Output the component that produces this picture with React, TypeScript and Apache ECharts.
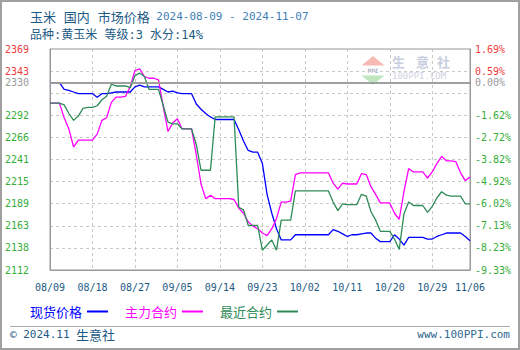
import React, { useEffect, useRef } from 'react';
import * as echarts from 'echarts';

// Categories: daily dates 08/09 .. 11/06
const monthRanges: [string, number, number][] = [
  ['08', 9, 31],
  ['09', 1, 30],
  ['10', 1, 31],
  ['11', 1, 6],
];
const dates: string[] = [];
monthRanges.forEach(([m, a, b]) => {
  for (let d = a; d <= b; d++) dates.push(m + '/' + (d < 10 ? '0' + d : '' + d));
});

const spotPrice = [
  2330, 2330, 2330, 2322, 2321, 2319, 2317, 2317, 2317, 2317,
  2313, 2317, 2317, 2318, 2319, 2319, 2319, 2319, 2325, 2327,
  2325, 2325, 2325, 2325, 2322, 2319, 2320, 2318, 2317, 2317,
  2317, 2305, 2299, 2294, 2290, 2287, 2287, 2287, 2287, 2287,
  2275, 2262, 2251, 2249, 2249, 2236, 2200, 2178, 2160, 2147,
  2147, 2147, 2153, 2153, 2153, 2153, 2153, 2153, 2153, 2153,
  2159, 2157, 2154, 2151, 2153, 2153, 2154, 2155, 2155, 2149,
  2145, 2145, 2145, 2153, 2148, 2141, 2150, 2150, 2150, 2150,
  2148, 2148, 2151, 2153, 2155, 2155, 2155, 2155, 2151, 2146,
];
const mainContract = [
  2306, 2306, 2306, 2289, 2276, 2255, 2263, 2263, 2263, 2263,
  2270, 2286, 2289, 2307, 2313, 2313, 2314, 2325, 2344, 2346,
  2337, 2335, 2335, 2333, 2302, 2273, 2283, 2288, 2276, 2276,
  2276, 2246, 2212, 2195, 2199, 2195, 2195, 2195, 2195, 2194,
  2184, 2178, 2168, 2163, 2160, 2155, 2152, 2160, 2172, 2191,
  2191, 2192, 2223, 2225, 2225, 2225, 2225, 2225, 2225, 2225,
  2213, 2206, 2213, 2212, 2212, 2212, 2224, 2223, 2209, 2200,
  2190, 2190, 2190, 2178, 2171, 2203, 2230, 2226, 2226, 2226,
  2219, 2226, 2236, 2244, 2239, 2239, 2238, 2225, 2216, 2220,
];
const nearestContract = [
  2306, 2306, 2306, 2304, 2294, 2286, 2291, 2300, 2301, 2301,
  2303, 2310, 2314, 2328, 2326, 2326, 2326, 2324, 2338, 2341,
  2337, 2322, 2322, 2322, 2303, 2284, 2282, 2282, 2276, 2276,
  2276, 2258, 2228, 2228, 2228, 2290, 2290, 2290, 2290, 2290,
  2185, 2182, 2164, 2164, 2164, 2135, 2141, 2147, 2135, 2170,
  2170, 2170, 2204, 2204, 2204, 2204, 2204, 2204, 2204, 2204,
  2191, 2181, 2189, 2188, 2188, 2188, 2200, 2198, 2180, 2170,
  2157, 2157, 2157, 2148, 2136, 2177, 2191, 2187, 2187, 2187,
  2179, 2186, 2196, 2203, 2199, 2198, 2198, 2198, 2189, 2189,
];

const yMin = 2112;
const yMax = 2369;
const baseValue = 2330;
const leftTickLabels = ['2112', '2138', '2163', '2189', '2215', '2241', '2266', '2292', '', '2343', '2369'];
const rightTickLabels = ['-9.33%', '-8.23%', '-7.13%', '-6.02%', '-4.92%', '-3.82%', '-2.72%', '-1.62%', '', '0.59%', '1.69%'];
const baseLeftLabel = '2330';
const baseRightLabel = '0.00%';
const seriesNames = ['现货价格', '主力合约', '最近合约'];

const MONO = '"DejaVu Sans Mono", "Noto Sans CJK SC", monospace';
const CJK = '"Noto Sans CJK SC", sans-serif';
const RED = '#f03c3c';
const GREEN = '#36ad36';
const GRAY = '#9a9a9a';
const DARK = '#1d5a85';

export default function App() {
  const ref = useRef<HTMLDivElement>(null);
  useEffect(() => {
    document.body.style.margin = '0';
    const chart = echarts.init(ref.current!, null, { renderer: 'svg' });
    const splitIdx = (i: number) => i % 9 === 0;
    const option: any = {
      animation: false,
      backgroundColor: '#ffffff',
      title: [
        {
          left: 25,
          top: 5,
          text: '{a|玉米}{s| }{a|国内}{s| }{a|市场价格}{t| }{b|2024-08-09 - 2024-11-07}',
          textStyle: {
            rich: {
              a: { fontSize: 13, color: DARK, fontFamily: CJK, fontWeight: 'normal' },
              s: { fontSize: 13, fontFamily: MONO, fontWeight: 'normal' },
              t: { fontSize: 11, fontFamily: MONO, fontWeight: 'normal' },
              b: { fontSize: 11, color: '#3f80b5', fontFamily: MONO, fontWeight: 'normal' },
            },
          },
        },
        {
          left: 25,
          top: 24,
          text: '品种:黄玉米 等级:3 水分:14%',
          textStyle: { fontSize: 12, color: DARK, fontFamily: MONO, fontWeight: 'normal' },
        },
      ],
      legend: {
        left: 25,
        top: 300,
        align: 'right',
        icon: 'rect',
        itemWidth: 21,
        itemHeight: 2,
        itemGap: 17,
        textStyle: { fontSize: 13, fontFamily: CJK },
        data: [
          { name: seriesNames[0], textStyle: { color: '#0000ff' } },
          { name: seriesNames[1], textStyle: { color: '#ff00ff' } },
          { name: seriesNames[2], textStyle: { color: '#2e8b57' } },
        ],
      },
      grid: {
        left: 50,
        right: 50,
        top: 49,
        bottom: 80,
        show: true,
        borderColor: '#999',
        borderWidth: 1,
        backgroundColor: 'transparent',
      },
      xAxis: {
        type: 'category',
        data: dates,
        boundaryGap: false,
        axisLine: { lineStyle: { color: '#999' } },
        axisTick: { show: false },
        axisLabel: {
          interval: (i: number) => i % 9 === 0 || i === dates.length - 1,
          color: DARK,
          fontSize: 10,
          fontFamily: MONO,
          margin: 12,
        },
        splitLine: {
          show: true,
          interval: (i: number) => splitIdx(i),
          lineStyle: { color: '#c8c8c8', type: [3, 3] },
        },
      },
      yAxis: [
        {
          type: 'value',
          min: yMin,
          max: yMax,
          position: 'left',
          axisLine: { show: false },
          axisTick: { show: false },
          axisLabel: { show: false },
          splitLine: { show: false },
        },
        {
          type: 'value',
          min: 0,
          max: 10,
          interval: 1,
          position: 'left',
          axisLine: { show: true, lineStyle: { color: '#999' } },
          axisTick: { show: false },
          axisLabel: {
            margin: 21,
            fontSize: 10,
            fontFamily: MONO,
            formatter: (v: number) => leftTickLabels[Math.round(v)] ?? '',
            color: (v: number) => (Math.round(v) >= 9 ? RED : GREEN),
          },
          splitLine: { show: true, lineStyle: { color: '#c8c8c8', type: [3, 3] } },
        },
        {
          type: 'value',
          min: 0,
          max: 10,
          interval: 1,
          position: 'right',
          axisLine: { show: true, lineStyle: { color: '#999' } },
          axisTick: { show: false },
          axisLabel: {
            margin: 5,
            fontSize: 10,
            fontFamily: MONO,
            formatter: (v: number) => rightTickLabels[Math.round(v)] ?? '',
            color: (v: number) => (Math.round(v) >= 9 ? RED : GREEN),
          },
          splitLine: { show: false },
        },
      ],
      series: [
        {
          name: seriesNames[0],
          type: 'line',
          yAxisIndex: 0,
          data: spotPrice,
          showSymbol: false,
          lineStyle: { color: '#0000ff', width: 1.3 },
          itemStyle: { color: '#0000ff' },
          markLine: {
            silent: true,
            symbol: ['none', 'none'],
            lineStyle: { color: GRAY, type: 'solid', width: 1.5 },
            label: {
              position: 'start',
              distance: 21,
              formatter: baseLeftLabel,
              color: GRAY,
              fontSize: 10,
              fontFamily: MONO,
            },
            data: [{ yAxis: baseValue }],
          },
        },
        {
          name: seriesNames[1],
          type: 'line',
          yAxisIndex: 0,
          data: mainContract,
          showSymbol: false,
          lineStyle: { color: '#ff00ff', width: 1.3 },
          itemStyle: { color: '#ff00ff' },
          markLine: {
            silent: true,
            symbol: ['none', 'none'],
            lineStyle: { color: GRAY, type: 'solid', width: 1.5 },
            label: {
              position: 'end',
              distance: 5,
              formatter: baseRightLabel,
              color: GRAY,
              fontSize: 10,
              fontFamily: MONO,
            },
            data: [{ yAxis: baseValue }],
          },
        },
        {
          name: seriesNames[2],
          type: 'line',
          yAxisIndex: 0,
          data: nearestContract,
          showSymbol: false,
          lineStyle: { color: '#2e8b57', width: 1.3 },
          itemStyle: { color: '#2e8b57' },
        },
      ],
      graphic: [
        {
          type: 'rect',
          silent: true,
          shape: { x: 1, y: 1, width: 518, height: 348 },
          style: { fill: 'none', stroke: '#a0a0a0', lineWidth: 2 },
        },
        {
          type: 'line',
          silent: true,
          shape: { x1: 10, y1: 326.5, x2: 510, y2: 326.5 },
          style: { stroke: '#aaaaaa', lineWidth: 1 },
        },
        {
          type: 'text',
          x: 10,
          y: 334,
          style: { text: '© 2024.11', fill: DARK, font: '11px ' + MONO, verticalAlign: 'middle' },
        },
        {
          type: 'text',
          x: 76,
          y: 334,
          style: { text: '生意社', fill: DARK, font: '13px ' + CJK, verticalAlign: 'middle' },
        },
        {
          type: 'text',
          x: 510,
          y: 334,
          style: { text: 'www.100PPI.com', fill: '#2f6a93', font: '11px ' + MONO, align: 'right', verticalAlign: 'middle' },
        },
        // watermark logo
        {
          type: 'polygon',
          silent: true,
          shape: { points: [[373, 56], [361.5, 65.5], [384.5, 65.5]] },
          style: { fill: '#f5bab3' },
        },
        {
          type: 'text',
          x: 373,
          y: 70.5,
          style: { text: 'PPI', fill: '#a9afc8', font: 'bold 6px ' + MONO, align: 'center', verticalAlign: 'middle' },
        },
        {
          type: 'polygon',
          silent: true,
          shape: { points: [[361.5, 75.5], [384.5, 75.5], [373, 85]] },
          style: { fill: '#bfe6bf' },
        },
        {
          type: 'text',
          x: 392,
          y: 61,
          style: { text: '生', fill: '#c9cde0', font: 'bold 13px ' + CJK, verticalAlign: 'middle' },
        },
        {
          type: 'text',
          x: 416,
          y: 61,
          style: { text: '意', fill: '#c9cde0', font: 'bold 13px ' + CJK, verticalAlign: 'middle' },
        },
        {
          type: 'text',
          x: 437,
          y: 61,
          style: { text: '社', fill: '#c9cde0', font: 'bold 13px ' + CJK, verticalAlign: 'middle' },
        },
        {
          type: 'text',
          x: 392,
          y: 75.5,
          style: { text: '100PPI.COM', fill: '#d0d3e2', font: '9px ' + MONO, verticalAlign: 'middle' },
        },
      ],
    };
    chart.setOption(option);
    return () => chart.dispose();
  }, []);
  return <div ref={ref} style={{ width: 520, height: 350 }} />;
}
